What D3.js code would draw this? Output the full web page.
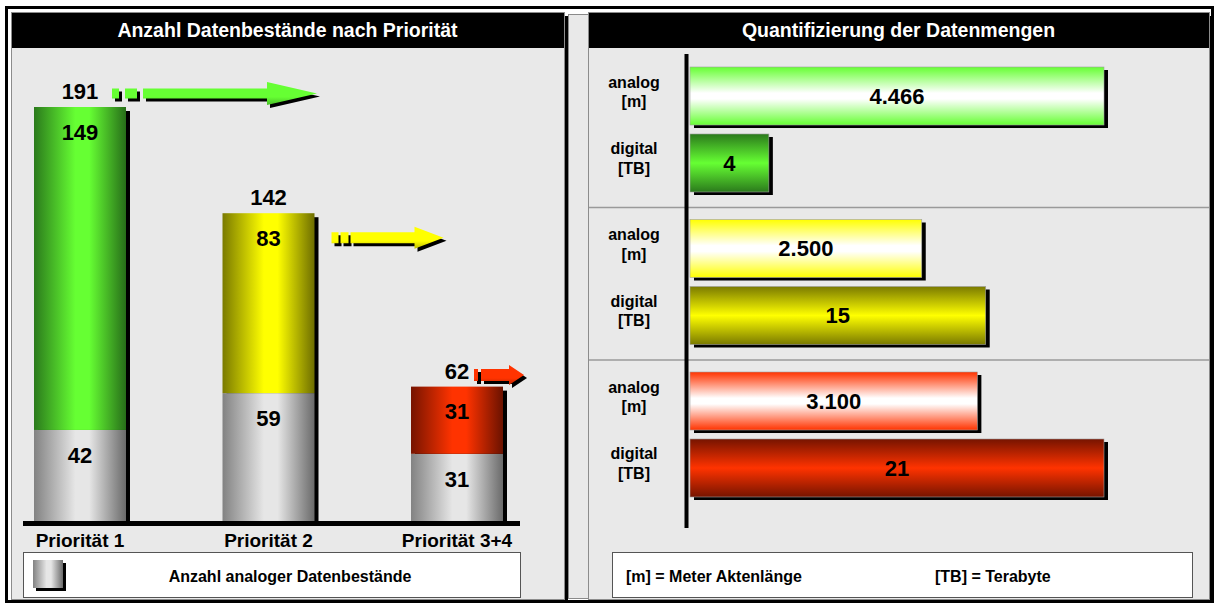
<!DOCTYPE html>
<html>
<head>
<meta charset="utf-8">
<script src="https://cdn.jsdelivr.net/npm/d3@7"></script>
<style>
    html, body { margin: 0; padding: 0; background: #fff; }
    svg { display: block; font-family: "Liberation Sans", Arial, sans-serif; font-weight: bold; }
</style>
</head>
<body>
<div id="chart"></div>
<script>
// Data
const categories = ["Priorität 1", "Priorität 2", "Priorität 3+4"];
const analogCounts = [42, 59, 31];
const digitalCounts = [149, 83, 31];
const totalCounts = [191, 142, 62];
const measureKeys = ["analog", "digital"];
const measureLabels = [["analog", "[m]"], ["digital", "[TB]"]];
const analogMeters = [4466, 2500, 3100];
const digitalTerabytes = [4, 15, 21];

const leftTitle = "Anzahl Datenbestände nach Priorität";
const rightTitle = "Quantifizierung der Datenmengen";
const leftLegend = "Anzahl analoger Datenbestände";
const rightLegend = ["[m] = Meter Aktenlänge", "[TB] = Terabyte"];

// Colours per priority
const themes = [
    { light: "#66ff33", dark: "#2b7a1c" },
    { light: "#ffff00", dark: "#7a7a00" },
    { light: "#ff3300", dark: "#761400" }
];
const grey = { light: "#e6e6e6", left: "#828282", dark: "#6a6a6a" };

// Decorative arrows next to the totals (offsets relative to bar centre / top)
const arrowShapes = [
    { dx: 32, dy: -13.5, len: 205, head: 50, shaft: 10, headH: 23, blocks: [7, 12], gap: 6 },
    { dx: 63, dy: 24.5, len: 112, head: 29, shaft: 11, headH: 22, blocks: [7, 8], gap: 2 },
    { dx: 17, dy: -11.5, len: 50, head: 15, shaft: 12, headH: 20, blocks: [4], gap: 3 }
];

const W = 1219, H = 604;
const headerH = 35;
const panelL = { x: 11, y: 12, w: 553, h: 587 };
const panelR = { x: 588, y: 12, w: 621, h: 587 };
const baseY = 521;

const fmt = d3.formatLocale({ decimal: ",", thousands: ".", grouping: [3], currency: ["", " €"] }).format(",d");

// Scales
const xLeft = d3.scaleBand().domain(categories).range([34, 503]).paddingInner(0.512).paddingOuter(0);
const yLeft = d3.scaleLinear().domain([0, d3.max(totalCounts)]).range([baseY, 107]);

const yGroup = d3.scaleBand().domain(categories).range([55, 512.5]);
const yInner = d3.scaleBand().domain(measureKeys).range([12, 137]).paddingInner(0.134);
const xAnalog = d3.scaleLinear().domain([0, d3.max(analogMeters)]).range([690, 1104]);
const xDigital = d3.scaleLinear().domain([0, d3.max(digitalTerabytes)]).range([690, 1104]);

const svg = d3.select("#chart").append("svg").attr("width", W).attr("height", H);
const defs = svg.append("defs");

function grad(id, vertical, stops) {
    const g = defs.append("linearGradient").attr("id", id)
        .attr("x1", 0).attr("y1", 0)
        .attr("x2", vertical ? 0 : 1).attr("y2", vertical ? 1 : 0);
    stops.forEach(([o, c]) => g.append("stop").attr("offset", o).attr("stop-color", c));
    return `url(#${id})`;
}

const cylGrey = grad("cyl-grey", false, [[0, grey.left], [0.45, grey.light], [0.6, grey.light], [1, grey.dark]]);
const cyl = themes.map((t, i) => grad("cyl-" + i, false, [[0, t.dark], [0.45, t.light], [0.6, t.light], [1, d3.color(t.dark).darker(0.3)]]));
const anaFill = themes.map((t, i) => grad("ana-" + i, true, [[0, t.light], [0.45, "#ffffff"], [0.55, "#ffffff"], [1, t.light]]));
const digFill = themes.map((t, i) => grad("dig-" + i, true, [[0, t.dark], [0.5, t.light], [1, t.dark]]));
const arrowFill = themes.map((t, i) => grad("arr-" + i, true, [[0, t.light], [0.65, t.light], [1, d3.interpolateRgb(t.light, t.dark)(0.5)]]));

function addText(g, x, y, str, size, anchor = "middle", fill = "#000") {
    return g.append("text")
        .attr("x", x).attr("y", y)
        .attr("font-size", size)
        .attr("text-anchor", anchor)
        .attr("fill", fill)
        .text(str);
}

// Frame
svg.append("rect").attr("width", W).attr("height", H).attr("fill", "#fff");
svg.append("rect").attr("x", 6.5).attr("y", 7.5).attr("width", 1206).attr("height", 594)
    .attr("fill", "none").attr("stroke", "#000").attr("stroke-width", 3);
svg.append("rect").attr("x", 568.5).attr("y", 14.5).attr("width", 21).attr("height", 584)
    .attr("fill", "#e9e9e9").attr("stroke", "#8a8a8a");

function drawPanel(p, title) {
    const g = svg.append("g");
    g.append("rect").attr("x", p.x + 4).attr("y", p.y + 4).attr("width", p.w).attr("height", p.h).attr("fill", "#000");
    g.append("rect").attr("x", p.x + 0.5).attr("y", p.y + 0.5).attr("width", p.w).attr("height", p.h)
        .attr("fill", "#e9e9e9").attr("stroke", "#8c8c8c");
    g.append("rect").attr("x", p.x + 1).attr("y", p.y + 1).attr("width", p.w - 1).attr("height", headerH).attr("fill", "#000");
    addText(g, p.x + p.w / 2, p.y + 24.5, title, 19.5, "middle", "#fff");
    return g;
}

const gl = drawPanel(panelL, leftTitle);
const gr = drawPanel(panelR, rightTitle);

// Left: stacked cylinders
const leftRows = categories.map((c, i) => ({ c, i, analog: analogCounts[i], digital: digitalCounts[i], total: totalCounts[i] }));
const bw = xLeft.bandwidth();

gl.selectAll(".shadow").data(leftRows).join("rect")
    .attr("x", d => xLeft(d.c) + 4).attr("y", d => yLeft(d.total) + 4)
    .attr("width", bw).attr("height", d => baseY - yLeft(d.total) - 4)
    .attr("fill", "#000");

gl.selectAll(".seg-analog").data(leftRows).join("rect")
    .attr("x", d => xLeft(d.c)).attr("y", d => yLeft(d.analog))
    .attr("width", bw).attr("height", d => baseY - yLeft(d.analog))
    .attr("fill", cylGrey);

gl.selectAll(".seg-digital").data(leftRows).join("rect")
    .attr("x", d => xLeft(d.c)).attr("y", d => yLeft(d.total))
    .attr("width", bw).attr("height", d => yLeft(d.analog) - yLeft(d.total))
    .attr("fill", d => cyl[d.i]);

gl.append("line").attr("x1", 23).attr("x2", 520).attr("y1", baseY + 2.5).attr("y2", baseY + 2.5)
    .attr("stroke", "#000").attr("stroke-width", 5);

leftRows.forEach(d => {
    const cx = xLeft(d.c) + bw / 2;
    addText(gl, cx, yLeft(d.total) - 15.5, d.total, 22).attr("dy", "0.35em");
    addText(gl, cx, yLeft(d.total) + 25, d.digital, 22).attr("dy", "0.35em");
    addText(gl, cx, yLeft(d.analog) + 25, d.analog, 22).attr("dy", "0.35em");
    addText(gl, cx, 547, d.c, 19);

    // arrow
    const a = arrowShapes[d.i];
    const x0 = cx + a.dx, y = yLeft(d.total) + a.dy, xe = x0 + a.len;
    const ag = gl.append("g");
    const parts = [];
    let px = x0;
    a.blocks.forEach(w => { parts.push(`M${px},${y - a.shaft / 2}h${w}v${a.shaft}h${-w}Z`); px += w + a.gap; });
    const xs = px, xh = xe - a.head;
    parts.push(`M${xs},${y - a.shaft / 2}L${xh},${y - a.shaft / 2}L${xh},${y - a.headH / 2}L${xe},${y}` +
        `L${xh},${y + a.headH / 2}L${xh},${y + a.shaft / 2}L${xs},${y + a.shaft / 2}Z`);
    ag.append("path").attr("d", parts.join("")).attr("fill", "#000").attr("transform", "translate(3,3)");
    ag.append("path").attr("d", parts.join("")).attr("fill", arrowFill[d.i]);
});

// Left legend
const lgBox = { x: 23.5, y: 552.5, w: 497, h: 45 };
gl.append("rect").attr("x", lgBox.x).attr("y", lgBox.y).attr("width", lgBox.w).attr("height", lgBox.h)
    .attr("fill", "#fff").attr("stroke", "#555");
gl.append("rect").attr("x", 36).attr("y", 563).attr("width", 30).attr("height", 28).attr("fill", "#000");
gl.append("rect").attr("x", 33).attr("y", 560).attr("width", 30).attr("height", 28).attr("fill", cylGrey);
addText(gl, lgBox.x + lgBox.w / 2 + 18, 576, leftLegend, 16).attr("dy", "0.35em");

// Right: horizontal bars
const rightRows = [];
categories.forEach((c, i) => {
    rightRows.push({ c, i, key: "analog", value: analogMeters[i], x: xAnalog, fill: anaFill[i] });
    rightRows.push({ c, i, key: "digital", value: digitalTerabytes[i], x: xDigital, fill: digFill[i] });
});
const bh = yInner.bandwidth();
const barY = d => yGroup(d.c) + yInner(d.key);

categories.slice(1).forEach(c => {
    gr.append("line").attr("x1", 589).attr("x2", 1209).attr("y1", yGroup(c)).attr("y2", yGroup(c))
        .attr("stroke", "#9a9a9a").attr("stroke-width", 1.5);
});

gr.selectAll(".hshadow").data(rightRows).join("rect")
    .attr("x", d => d.x(0) + 4).attr("y", d => barY(d) + 3)
    .attr("width", d => d.x(d.value) - d.x(0)).attr("height", bh)
    .attr("fill", "#000");

gr.selectAll(".hbar").data(rightRows).join("rect")
    .attr("x", d => d.x(0)).attr("y", barY)
    .attr("width", d => d.x(d.value) - d.x(0)).attr("height", bh)
    .attr("fill", d => d.fill)
    .attr("stroke", "#a0a0a0").attr("stroke-width", 0.6);

rightRows.forEach(d => {
    const cy = barY(d) + bh / 2;
    addText(gr, (d.x(0) + d.x(d.value)) / 2, cy, fmt(d.value), 22).attr("dy", "0.35em");
    const lab = measureLabels[measureKeys.indexOf(d.key)];
    addText(gr, 634, cy - 8.5, lab[0], 16);
    addText(gr, 634, cy + 11, lab[1], 16);
});

gr.append("line").attr("x1", 686.5).attr("x2", 686.5).attr("y1", 54).attr("y2", 528)
    .attr("stroke", "#000").attr("stroke-width", 4);

// Right legend
const rgBox = { x: 612.5, y: 552.5, w: 580, h: 45 };
gr.append("rect").attr("x", rgBox.x).attr("y", rgBox.y).attr("width", rgBox.w).attr("height", rgBox.h)
    .attr("fill", "#fff").attr("stroke", "#555");
addText(gr, 626, 576, rightLegend[0], 16, "start").attr("dy", "0.35em");
addText(gr, 935, 576, rightLegend[1], 16, "start").attr("dy", "0.35em");
</script>
</body>
</html>
